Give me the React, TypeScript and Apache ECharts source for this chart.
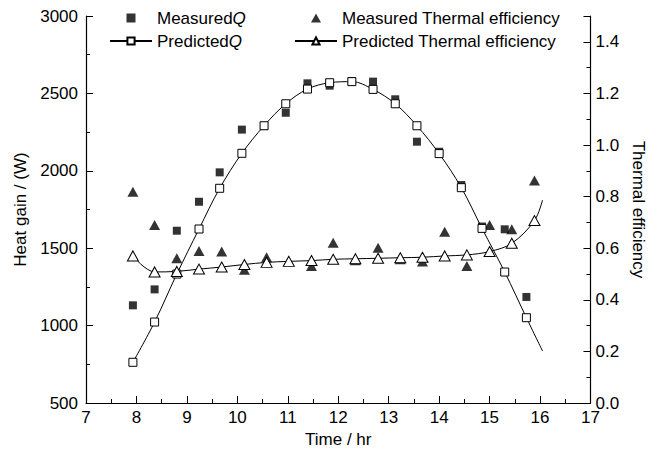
import React, { useEffect, useRef } from "react";
import * as echarts from "echarts";

// Time (hr) of each heat-gain sample
const qTimes = [7.93, 8.36, 8.8, 9.24, 9.65, 10.09, 10.53, 10.96, 11.39, 11.83, 12.27, 12.69, 13.13, 13.56, 14.0, 14.44, 14.85, 15.3, 15.73];
const measuredQ = [1131, 1234, 1613, 1800, 1990, 2266, 2290, 2375, 2565, 2550, 2580, 2576, 2462, 2188, 2123, 1908, 1640, 1622, 1185];
const predictedQ = [763, 1023, 1333, 1624, 1887, 2113, 2291, 2433, 2528, 2569, 2576, 2526, 2433, 2291, 2111, 1891, 1628, 1346, 1051];
// end of the fitted heat-gain curve (beyond the last marker)
const predictedQCurveEnd = [16.05, 836];

// Time (hr) of each efficiency sample
const effTimes = [7.93, 8.36, 8.8, 9.24, 9.69, 10.14, 10.58, 11.02, 11.47, 11.9, 12.34, 12.79, 13.23, 13.67, 14.11, 14.55, 15.0, 15.44, 15.89];
const measuredEff = [0.819, 0.69, 0.561, 0.589, 0.587, 0.516, 0.565, 0.55, 0.531, 0.621, 0.553, 0.602, 0.557, 0.548, 0.664, 0.531, 0.69, 0.673, 0.862];
const predictedEff = [0.57, 0.508, 0.51, 0.519, 0.527, 0.537, 0.545, 0.549, 0.552, 0.557, 0.559, 0.561, 0.563, 0.565, 0.57, 0.574, 0.587, 0.619, 0.707];
const predictedEffCurveEnd = [16.05, 0.787];

const FONT = "'Liberation Sans', Arial, Helvetica, sans-serif";
const INK = "#000";
const FS = 17;

const SQUARE_ICON = "path://M0,0H10V10H0Z";
const TRIANGLE_ICON = "path://M5,0L10,9H0Z";

const zip = (xs: number[], ys: number[]) => xs.map((x, i) => [x, ys[i]]);

export default function App() {
  const ref = useRef<HTMLDivElement>(null);

  useEffect(() => {
    if (!ref.current) return;
    const chart = echarts.init(ref.current, undefined, { renderer: "svg" });

    const legendText = {
      fontFamily: FONT,
      fontSize: FS,
      color: INK,
      lineHeight: 17,
      rich: {
        i: { fontFamily: FONT, fontSize: FS, color: INK, fontStyle: "italic", lineHeight: 17 },
      },
    };
    const fmt = (name: string) => name.replace(/Q$/, "{i|Q}");

    const option: any = {
      animation: false,
      backgroundColor: "#fff",
      textStyle: { fontFamily: FONT },
      grid: { left: 86, right: 51, top: 16, bottom: 53, containLabel: false },
      legend: [
        {
          data: [{ name: "MeasuredQ", icon: SQUARE_ICON }, { name: "PredictedQ" }],
          orient: "vertical",
          left: 109,
          top: 9.5,
          itemWidth: 42,
          itemHeight: 9,
          itemGap: 6,
          padding: 0,
          symbolKeepAspect: true,
          selectedMode: false,
          formatter: fmt,
          textStyle: legendText,
        },
        {
          data: [{ name: "Measured Thermal efficiency", icon: TRIANGLE_ICON }, { name: "Predicted Thermal efficiency" }],
          orient: "vertical",
          left: 294,
          top: 9.5,
          itemWidth: 42,
          itemHeight: 9,
          itemGap: 6,
          padding: 0,
          symbolKeepAspect: true,
          selectedMode: false,
          textStyle: legendText,
        },
      ],
      xAxis: {
        type: "value",
        min: 7,
        max: 17,
        interval: 1,
        name: "Time / hr",
        nameLocation: "middle",
        nameGap: 27,
        nameTextStyle: { fontFamily: FONT, fontSize: FS, color: INK },
        axisLine: { show: true, lineStyle: { color: INK, width: 1.2 } },
        axisTick: { show: true, inside: true, length: 7, lineStyle: { color: INK, width: 1 } },
        minorTick: { show: true, splitNumber: 2, length: 4, lineStyle: { color: INK, width: 1 } },
        axisLabel: { fontFamily: FONT, fontSize: FS, color: INK, margin: 6, formatter: (v: number) => String(v) },
        splitLine: { show: false },
      },
      yAxis: [
        {
          type: "value",
          position: "left",
          min: 500,
          max: 3000,
          interval: 500,
          name: "Heat gain / (W)",
          nameLocation: "middle",
          nameRotate: 90,
          nameGap: 56,
          nameTextStyle: { fontFamily: FONT, fontSize: FS, color: INK },
          axisLine: { show: true, lineStyle: { color: INK, width: 1.2 } },
          axisTick: { show: true, inside: true, length: 7, lineStyle: { color: INK, width: 1 } },
          minorTick: { show: true, splitNumber: 2, length: 4, lineStyle: { color: INK, width: 1 } },
          axisLabel: { fontFamily: FONT, fontSize: FS, color: INK, margin: 8, formatter: (v: number) => String(v) },
          splitLine: { show: false },
        },
        {
          type: "value",
          position: "right",
          min: 0,
          max: 1.5,
          interval: 0.2,
          name: "Thermal efficiency",
          nameLocation: "middle",
          nameRotate: -90,
          nameGap: 34,
          nameTextStyle: { fontFamily: FONT, fontSize: FS, color: INK },
          axisLine: { show: true, lineStyle: { color: INK, width: 1.2 } },
          axisTick: { show: true, inside: true, length: 7, lineStyle: { color: INK, width: 1 } },
          minorTick: { show: true, splitNumber: 2, length: 4, lineStyle: { color: INK, width: 1 } },
          axisLabel: {
            fontFamily: FONT,
            fontSize: FS,
            color: INK,
            margin: 5,
            showMaxLabel: false,
            formatter: (v: number) => v.toFixed(1),
          },
          splitLine: { show: false },
        },
      ],
      series: [
        {
          name: "MeasuredQ",
          type: "scatter",
          yAxisIndex: 0,
          symbol: "rect",
          symbolSize: 8,
          itemStyle: { color: INK },
          data: zip(qTimes, measuredQ),
          z: 2,
        },
        {
          name: "Measured Thermal efficiency",
          type: "scatter",
          yAxisIndex: 1,
          symbol: "triangle",
          symbolSize: [11, 10],
          itemStyle: { color: INK },
          data: zip(effTimes, measuredEff),
          z: 2,
        },
        {
          name: "PredictedQ",
          type: "line",
          yAxisIndex: 0,
          smooth: 0.35,
          symbol: "rect",
          symbolSize: 8,
          showSymbol: true,
          itemStyle: { color: "#fff", borderColor: INK, borderWidth: 1 },
          lineStyle: { color: INK, width: 1 },
          data: [
            ...zip(qTimes, predictedQ),
            { value: predictedQCurveEnd, symbol: "none" },
          ],
          z: 3,
        },
        {
          name: "Predicted Thermal efficiency",
          type: "line",
          yAxisIndex: 1,
          smooth: 0.35,
          symbol: "triangle",
          symbolSize: [11, 10],
          showSymbol: true,
          itemStyle: { color: "#fff", borderColor: INK, borderWidth: 1 },
          lineStyle: { color: INK, width: 1 },
          data: [
            ...zip(effTimes, predictedEff),
            { value: predictedEffCurveEnd, symbol: "none" },
          ],
          z: 3,
        },
      ],
    };

    chart.setOption(option);
    return () => chart.dispose();
  }, []);

  return (
    <div
      ref={ref}
      style={{ position: "absolute", left: 0, top: 0, width: 655, height: 456, background: "#fff" }}
    />
  );
}
